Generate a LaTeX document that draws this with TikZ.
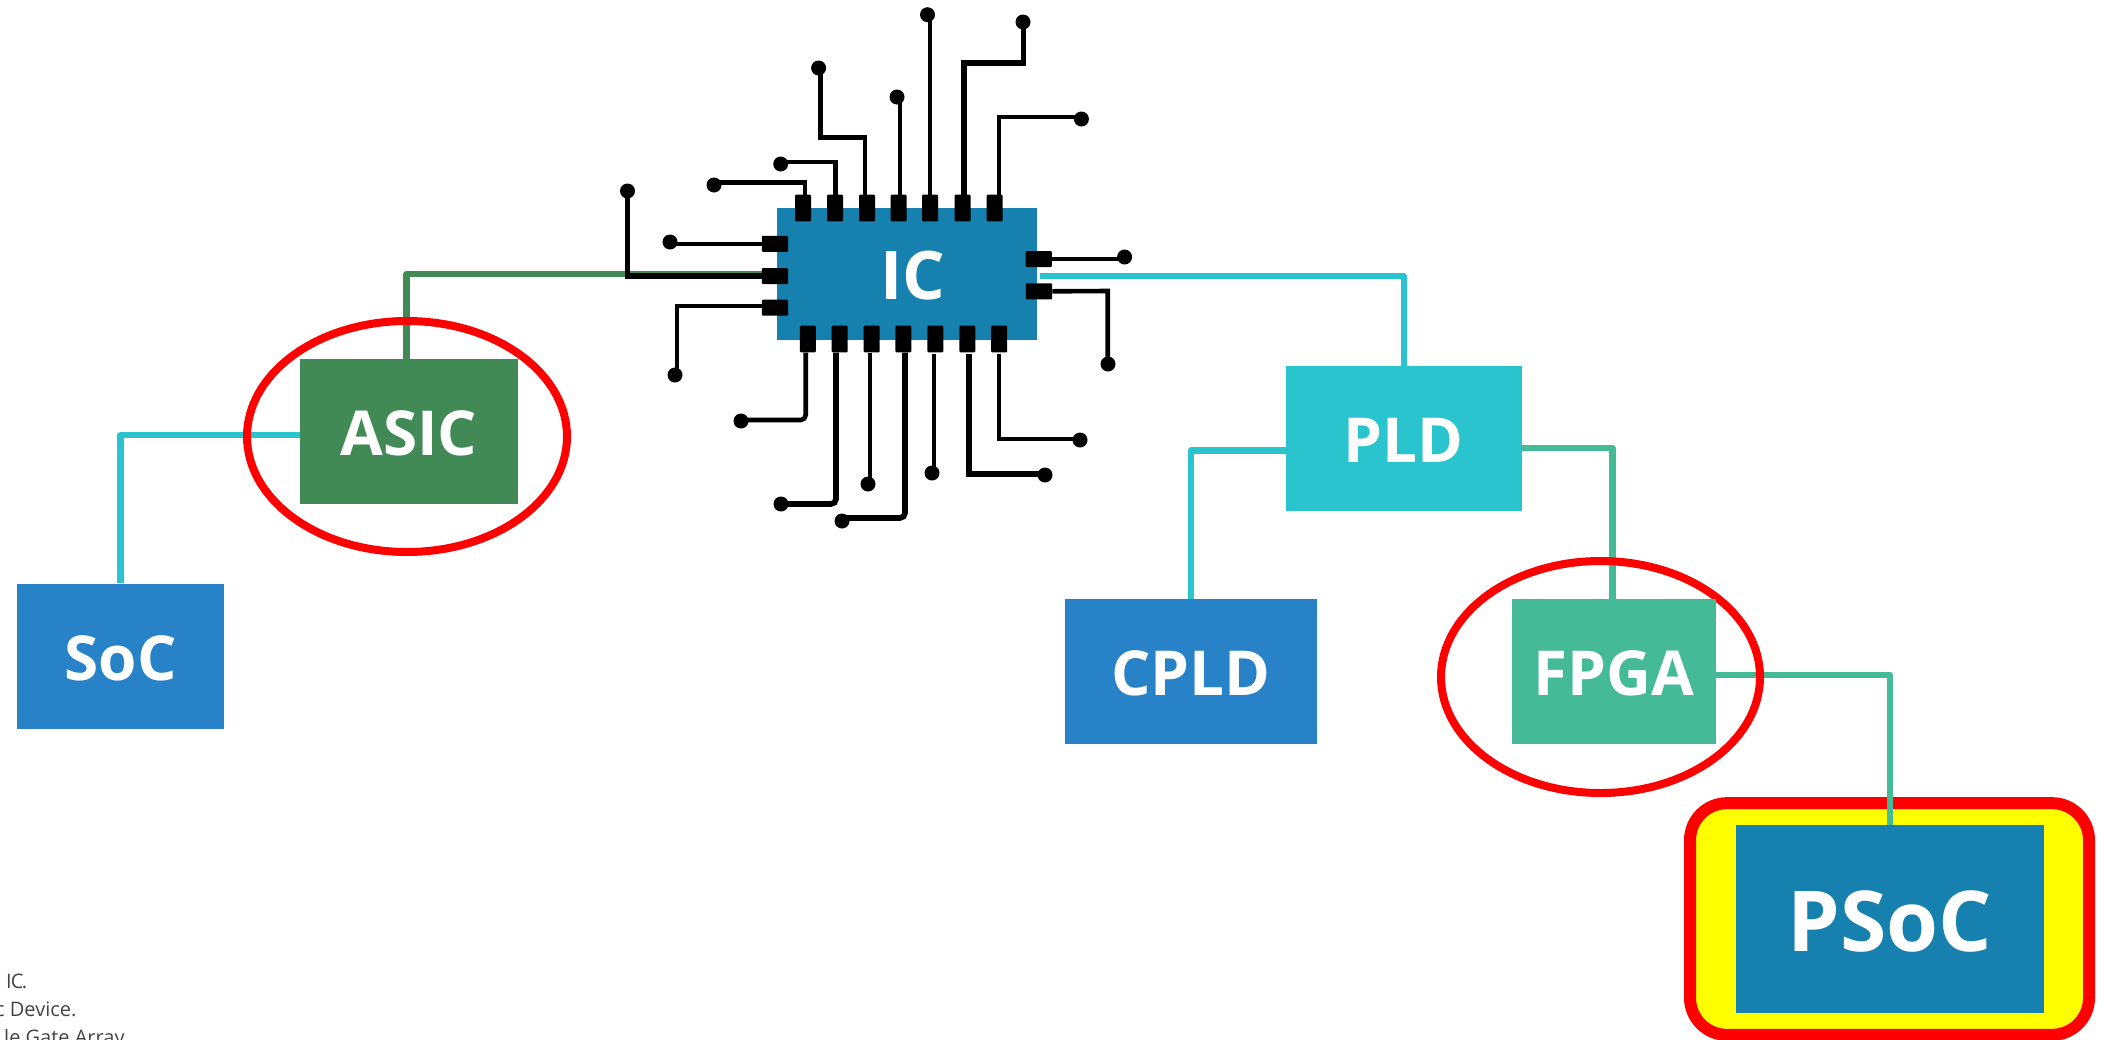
\documentclass[tikz,border=0pt]{standalone}
\usepackage{fontspec}
\setmainfont{Open Sans}
\usetikzlibrary{shapes.geometric,calc}
\definecolor{icblue}{HTML}{1680AE}
\definecolor{midblue}{HTML}{2882C8}
\definecolor{cyanbox}{HTML}{29C4CD}
\definecolor{seagreen}{HTML}{44BA97}
\definecolor{asicgreen}{HTML}{418A56}
\definecolor{notegray}{HTML}{444444}
\definecolor{haloyellow}{RGB}{255,255,0}
\definecolor{ringred}{RGB}{255,0,0}
\pgfdeclarelayer{halolayer}
\pgfdeclarelayer{wirelayer}
\pgfdeclarelayer{ringlayer}
\pgfsetlayers{halolayer,wirelayer,ringlayer,main}
\newcommand{\lbl}[1]{\raisebox{-2pt}[\height][\depth]{#1}}
\tikzset{
  x=1pt,y=-1pt,
  box/.style={draw=none,inner sep=0pt,text=white,font=\bfseries\fontsize{62}{62}\selectfont},
  vpin/.style={fill=black,inner sep=0pt,minimum width=16pt,minimum height=26.6pt,rounded corners=1pt},
  hpin/.style={fill=black,inner sep=0pt,minimum width=26.4pt,minimum height=16pt,rounded corners=1pt},
  tdot/.style={circle,fill=black,inner sep=0pt,minimum size=15pt},
  trace/.style={draw=black,line width=4.6pt,line join=miter},
  thick trace/.style={draw=black,line width=5.6pt,line join=miter},
  soft/.style={rounded corners=5pt},
  wire/.style={line width=6.5pt,line join=round},
  ring/.style={ellipse,draw=ringred,line width=8pt,inner sep=0pt},
  note/.style={anchor=base west,inner sep=0pt,text=notegray,font=\fontsize{20}{20}\selectfont},
}
\begin{document}
\begin{tikzpicture}
\useasboundingbox (0,0) rectangle (2108,1039);
% boxes
\node[box,fill=icblue,minimum width=260pt,minimum height=132pt] (ic) at (907,274) {\hspace*{12pt}\lbl{\fontsize{67}{67}\selectfont IC}};
\node[box,fill=asicgreen,minimum width=218pt,minimum height=145pt] (asic) at (409,431.5) {\lbl{ASIC}};
\node[box,fill=midblue,minimum width=207pt,minimum height=145pt] (soc) at (120.5,656) {\lbl{SoC}};
\node[box,fill=cyanbox,minimum width=235.7pt,minimum height=144.7pt] (pld) at (1403.8,438.4) {\lbl{PLD}};
\node[box,fill=midblue,minimum width=252pt,minimum height=145pt] (cpld) at (1191,671.5) {\lbl{CPLD}};
\node[box,fill=seagreen,minimum width=204pt,minimum height=145pt] (fpga) at (1614,671.5) {\lbl{FPGA}};
\node[box,fill=icblue,minimum width=308pt,minimum height=187.7pt,font=\bfseries\fontsize{84}{84}\selectfont] (psoc) at (1890,919) {\lbl{PSoC}};
% PSoC highlight
\begin{pgfonlayer}{halolayer}
\node[draw=ringred,fill=haloyellow,line width=12pt,rounded corners=37pt,inner sep=0pt,minimum width=399pt,minimum height=231.7pt] (halo) at (1889.5,919) {};
\end{pgfonlayer}
% coloured connectors
\begin{pgfonlayer}{wirelayer}
\draw[wire,asicgreen] ([xshift=-2.3pt]asic.north) |- (ic.west);
\draw[wire,cyanbox] ([xshift=2.5pt,yshift=-2pt]ic.east) -| (pld.north);
\draw[wire,cyanbox] ([yshift=-3.5pt]asic.west) -| (soc.north);
\draw[wire,cyanbox] ([yshift=-12.3pt]pld.west) -| (cpld.north);
\draw[wire,seagreen] ([yshift=-9.6pt]pld.east) -| ([xshift=-1.7pt]fpga.north);
\draw[wire,seagreen] ([yshift=-3.5pt]fpga.east) -| (psoc.north);
\end{pgfonlayer}
% rings
\begin{pgfonlayer}{ringlayer}
\node[ring,minimum width=320pt,minimum height=231pt] (ringa) at (407,436.5) {};
\node[ring,minimum width=319pt,minimum height=232pt] (ringf) at (1600.5,677) {};
\end{pgfonlayer}
% pins
\foreach \n/\px in {t1/803,t2/835,t3/867,t4/898.6,t5/930,t6/962.5,t7/994.6}
  \node[vpin] (\n) at (\px,208) {};
\foreach \n/\px in {b1/807.8,b2/839.7,b3/871.7,b4/903.3,b5/935.3,b6/967.3,b7/999.2}
  \node[vpin] (\n) at (\px,339) {};
\node[hpin] (l1) at (775,243.8) {};
\node[hpin] (l2) at (775,276) {};
\node[hpin] (l3) at (775,307.7) {};
\node[hpin] (r1) at (1038.7,259) {};
\node[hpin] (r2) at (1039,291.3) {};
% end dots
\node[tdot] (dt1) at (714,185) {};
\node[tdot] (dt2) at (780.7,164) {};
\node[tdot] (dt3) at (818.6,68) {};
\node[tdot] (dt4) at (897,97) {};
\node[tdot] (dt5) at (927.5,14.7) {};
\node[tdot] (dt6) at (1023,22) {};
\node[tdot] (dt7) at (1081.4,119) {};
\node[tdot] (db1) at (741,421) {};
\node[tdot] (db2) at (781,504) {};
\node[tdot] (db3) at (868,484) {};
\node[tdot] (db4) at (842,521) {};
\node[tdot] (db5) at (932,473) {};
\node[tdot] (db6) at (1045,475) {};
\node[tdot] (db7) at (1080,440) {};
\node[tdot] (dl1) at (670,242) {};
\node[tdot] (dl2) at (627.5,191) {};
\node[tdot] (dl3) at (675,375) {};
\node[tdot] (dr1) at (1124.6,257) {};
\node[tdot] (dr2) at (1108,364) {};
% bends
\coordinate (kt1) at (805,182.5);
\coordinate (kt2) at (835.7,162);
\coordinate (kt3) at (865,137.7);
\coordinate (kt3b) at (820.7,137.7);
\coordinate (kt6) at (964,63);
\coordinate (kt6b) at (1023.6,63);
\coordinate (kt7) at (999,117);
\coordinate (kb1) at (805.7,420);
\coordinate (kb2) at (836,504);
\coordinate (kb4) at (905,518);
\coordinate (kb6) at (969,474);
\coordinate (kb7) at (999,439);
\coordinate (kl2) at (627.5,276);
\coordinate (kl3) at (677,306);
\coordinate (kr2) at (1107.7,291);
% traces, top side
\draw[trace] (kt1 |- t1.north) -- (kt1) -- (kt1 -| dt1);
\draw[trace] (kt2 |- t2.north) -- (kt2) -- (kt2 -| dt2);
\draw[trace] (kt3 |- t3.north) -- (kt3) -- (kt3b) -- (kt3b |- dt3);
\draw[trace] ([xshift=1.4pt]t4.north) -- ([xshift=1.4pt]t4.north |- dt4);
\draw[trace] (t5.north) -- (t5.north |- dt5);
\draw[thick trace] (kt6 |- t6.north) -- (kt6) -- (kt6b) -- (kt6b |- dt6);
\draw[trace] (kt7 |- t7.north) -- (kt7) -- (kt7 -| dt7);
% traces, bottom side
\draw[trace,soft] (kb1 |- b1.south) -- (kb1) -- (kb1 -| db1);
\draw[thick trace,soft] (kb2 |- b2.south) -- (kb2) -- (kb2 -| db2);
\draw[trace] ([xshift=-1.7pt]b3.south) -- ([xshift=-1.7pt]b3.south |- db3);
\draw[thick trace,soft] (kb4 |- b4.south) -- (kb4) -- (kb4 -| db4);
\draw[trace] ([xshift=-1.3pt,yshift=-1.5pt]b5.south) -- ([xshift=-1.3pt]b5.south |- db5);
\draw[thick trace] ([yshift=-1.5pt]kb6 |- b6.south) -- (kb6) -- (kb6 -| db6);
\draw[trace] ([yshift=-1.5pt]kb7 |- b7.south) -- (kb7) -- (kb7 -| db7);
% traces, sides
\draw[trace] (l1.west) -- (l1.west -| dl1);
\draw[thick trace] (l2.west) -- (kl2) -- (kl2 |- dl2);
\draw[trace] (l3.west |- kl3) -- (kl3) -- (kl3 |- dl3);
\draw[trace] (r1.east) -- (r1.east -| dr1);
\draw[trace] (r2.east) -- (kr2) -- (kr2 |- dr2);
% footnote lines, cut by the page edge as in the reference
\node[note] (n1) at (6,988) {I\kern-1pt C\kern-1.5pt .};
\node[note] (n2) at (-5,1016) {c Device.};
\node[note] (n3) at (4,1044) {le Gate Array};
\end{tikzpicture}
\end{document}
